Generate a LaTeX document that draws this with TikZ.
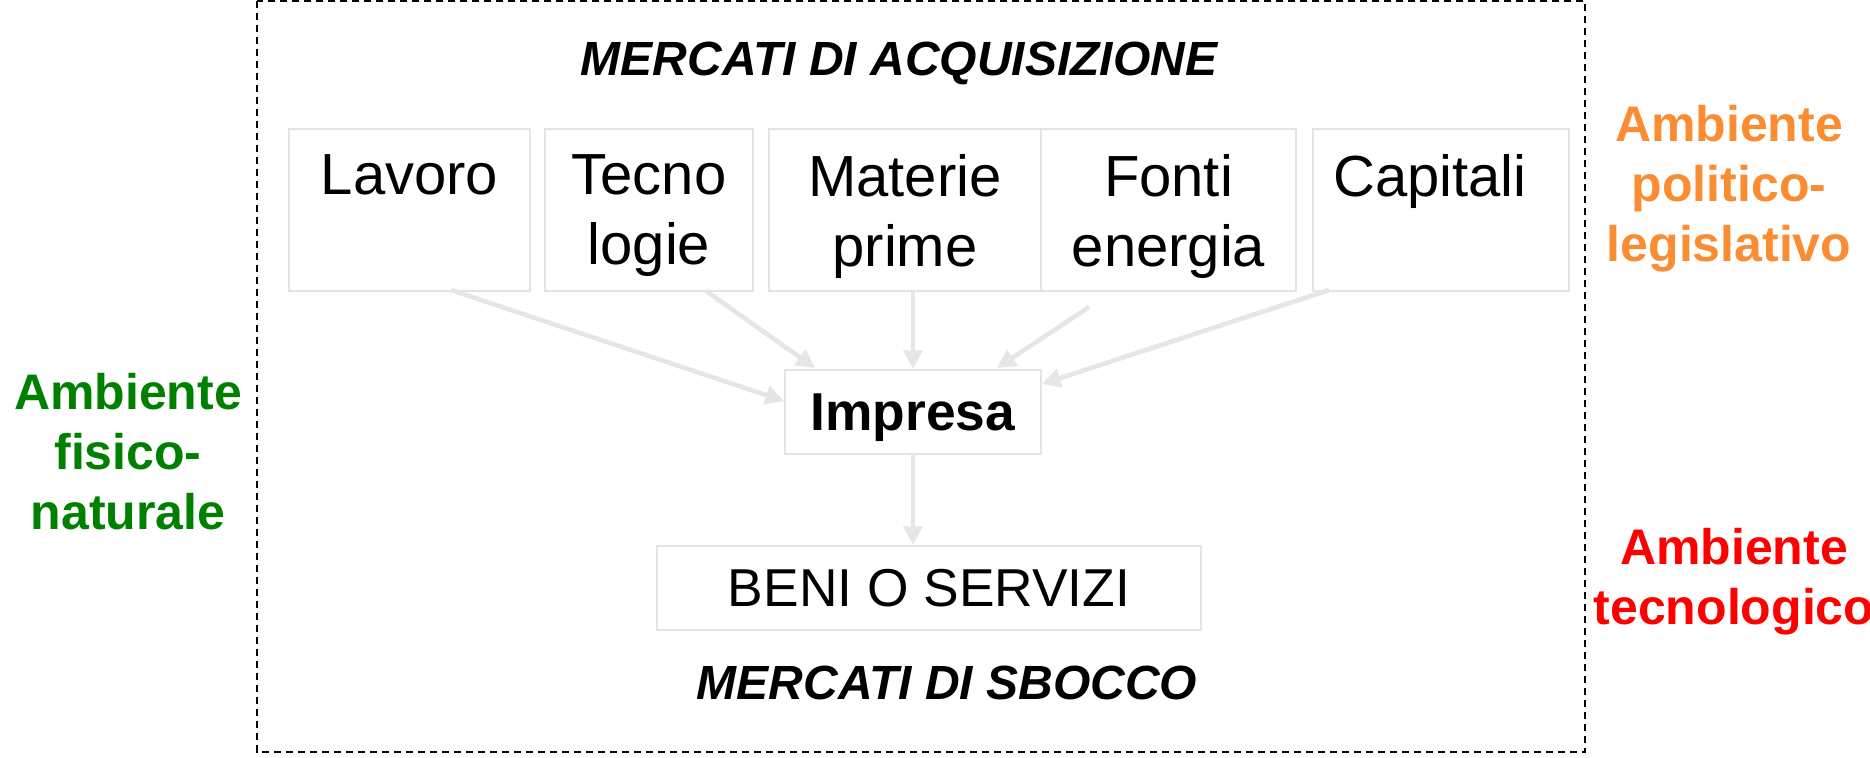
\documentclass[tikz,border=0pt]{standalone}
\usepackage{fontspec}
\setmainfont{Liberation Sans}
\usetikzlibrary{arrows.meta,calc,fit}
\definecolor{flowgray}{RGB}{230,230,230}
\definecolor{boxgray}{RGB}{228,228,228}
\definecolor{envgreen}{RGB}{0,128,0}
\definecolor{envorange}{RGB}{250,140,50}
\definecolor{envred}{RGB}{255,0,0}
\begin{document}
\begin{tikzpicture}[x=0.75pt,y=-0.75pt,
  box/.style={draw=boxgray, line width=1.5pt, inner sep=0pt},
  boxtext/.style={font=\fontsize{43.5}{53}\selectfont, align=center, anchor=north, inner sep=0pt},
  flow/.style={draw=flowgray, line width=3.5pt, -{Triangle[length=14pt,width=14pt]}},
  env/.style={font=\bfseries\fontsize{37.5}{45}\selectfont, align=center, inner sep=0pt},
  mtitle/.style={font=\bfseries\itshape\fontsize{36}{43}\selectfont, anchor=base, inner sep=0pt}]
\useasboundingbox (0,0) rectangle (1870,757);
\draw[dash pattern=on 5.5pt off 3.5pt, line width=1.4pt] (257,1) rectangle (1585,752);

% input boxes
\node[box, fit={(289,129) (530,291)}] (lavoro) {};
\node[box, fit={(545,129) (753,291)}] (tecno) {};
\node[box, fit={(769,129) (1041,291)}] (materie) {};
\node[box, fit={(1041,129) (1296,291)}] (fonti) {};
\node[box, fit={(1313,129) (1569,291)}] (capitali) {};

\node[boxtext] (lavoroT) at ($(lavoro.north)+(0,26)$) {Lavoro};
\node[boxtext] (tecnoT) at ($(tecno.north)+(0,26)$) {Tecno\\logie};
\node[boxtext] (materieT) at ($(materie.north)+(0,26)$) {Materie\\prime};
\node[boxtext] (fontiT) at ($(fonti.north)+(0,26)$) {Fonti\\energia};
\node[boxtext] (capitaliT) at ($(capitali.north)+(-11,26)$) {Capitali};

\node[box, minimum width=192pt, minimum height=63pt, font=\bfseries\fontsize{40}{48}\selectfont, text depth=0pt] (impresa) at (913,412) {Impresa};
\node[box, minimum width=408pt, minimum height=63pt, font=\fontsize{40}{48}\selectfont, text depth=0pt] (beni) at (929,588) {BENI O SERVIZI};

\node[mtitle] (acq) at (899,75) {MERCATI DI ACQUISIZIONE};
\node[mtitle] (sbocco) at (947,699) {MERCATI DI SBOCCO};

% connectors
\draw[flow] ($(lavoro.south)+(41.5,-2)$) -- ($(impresa.west)+(0,-11)$);
\draw[flow] ($(tecno.south)+(57,-1)$) -- ($(impresa.north west)+(31,-1)$);
\draw[flow] (materie.south -| impresa.north) -- (impresa.north);
\draw[flow] ($(fonti.south)+(-79.5,15)$) -- ($(impresa.north east)+(-45,-1)$);
\draw[flow] ($(capitali.south)+(-112,-2)$) -- ($(impresa.east)+(0,-28)$);
\draw[flow] (impresa.south) -- (impresa.south |- beni.north);

% environments
\node[env, text=envgreen] (fisico) at (128,452) {Ambiente\\fisico-\\naturale};
\node[env, text=envorange] (politico) at (1729,189) {Ambiente\\politico-\\legislativo};
\node[env, text=envred] (tecnologico) at (1734,582) {Ambiente\\tecnologico};
\end{tikzpicture}
\end{document}
